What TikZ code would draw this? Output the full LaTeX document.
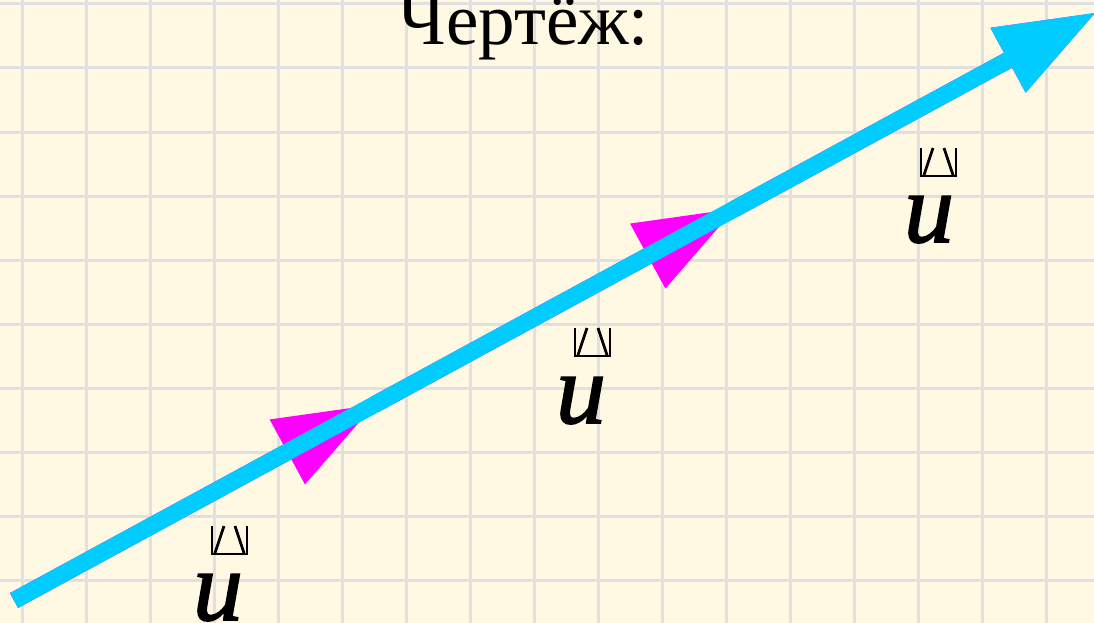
\documentclass[tikz,border=0pt]{standalone}
\usepackage{fontspec}
\setmainfont{Liberation Serif}
\newfontfamily\ufont{Liberation Serif}[FakeBold=1.6]
\usetikzlibrary{calc}
\definecolor{bgc}{HTML}{FFF8E2}
\definecolor{gridc}{HTML}{E0E0E0}
\definecolor{bluev}{HTML}{00CCFF}
\definecolor{magv}{HTML}{FF00FF}
\tikzset{
  gridline/.style={draw=gridc, line width=3pt},
  vecline/.style={line width=17pt},
  vm/.style={draw=black, line width=2.8pt},
  lbl/.style={font=\ufont\itshape\fontsize{100}{100}\selectfont, inner sep=0pt, anchor=base},
  ttl/.style={font=\fontsize{73}{73}\selectfont, inner sep=0pt, anchor=base},
  vecmark/.pic={
    \draw[vm] (0,0) -- (0,28) -- (35,28) -- (35,0);
    \draw[vm] (3,27) -- (12,0);
    \draw[vm] (23,0) -- (32,27);
  }
}
\begin{document}
\begin{tikzpicture}[x=1pt,y=-1pt]
\path[use as bounding box, fill=bgc] (0,0) rectangle (1094,623);
\clip (0,0) rectangle (1094,623);
\foreach \i in {0,...,16} \draw[gridline] (22+64*\i,0) -- (22+64*\i,623);
\foreach \j in {0,...,9} \draw[gridline] (0,4+64*\j) -- (1094,4+64*\j);

\coordinate (S) at (14,600.5);
\coordinate (A1) at (374.3,404.7);
\coordinate (A2) at (734.7,208.8);
\coordinate (A3) at (1095,13);

% arrowhead bases and corners
\foreach \t/\f/\n in {A1/S/1, A2/A1/2, A3/A2/3} {
  \coordinate (B\n) at ($(\t)!99pt!(\f)$);
  \coordinate (L\n) at ($(B\n)!37pt!90:(\t)$);
  \coordinate (R\n) at ($(B\n)!37pt!-90:(\t)$);
}

% magenta vectors u
\draw[vecline, magv] (S) -- (B1);
\draw[vecline, magv] (A1) -- (B2);
\draw[vecline, magv] (A2) -- (B3);
\fill[magv] (A1) -- (L1) -- (R1) -- cycle;
\fill[magv] (A2) -- (L2) -- (R2) -- cycle;
\fill[magv] (A3) -- (L3) -- (R3) -- cycle;

% blue vector 3u
\draw[vecline, bluev] (S) -- (B3);
\fill[bluev] (A3) -- (L3) -- (R3) -- cycle;

% labels
\node[ttl] (title) at (524,45) {Чертёж:};
\node[lbl] (u1) at (218,620) {u};
\node[lbl] (u2) at (581,423) {u};
\node[lbl] (u3) at (929,242) {u};
\pic at (212,526) {vecmark};
\pic at (575,328) {vecmark};
\pic at (921,148) {vecmark};
\end{tikzpicture}
\end{document}
